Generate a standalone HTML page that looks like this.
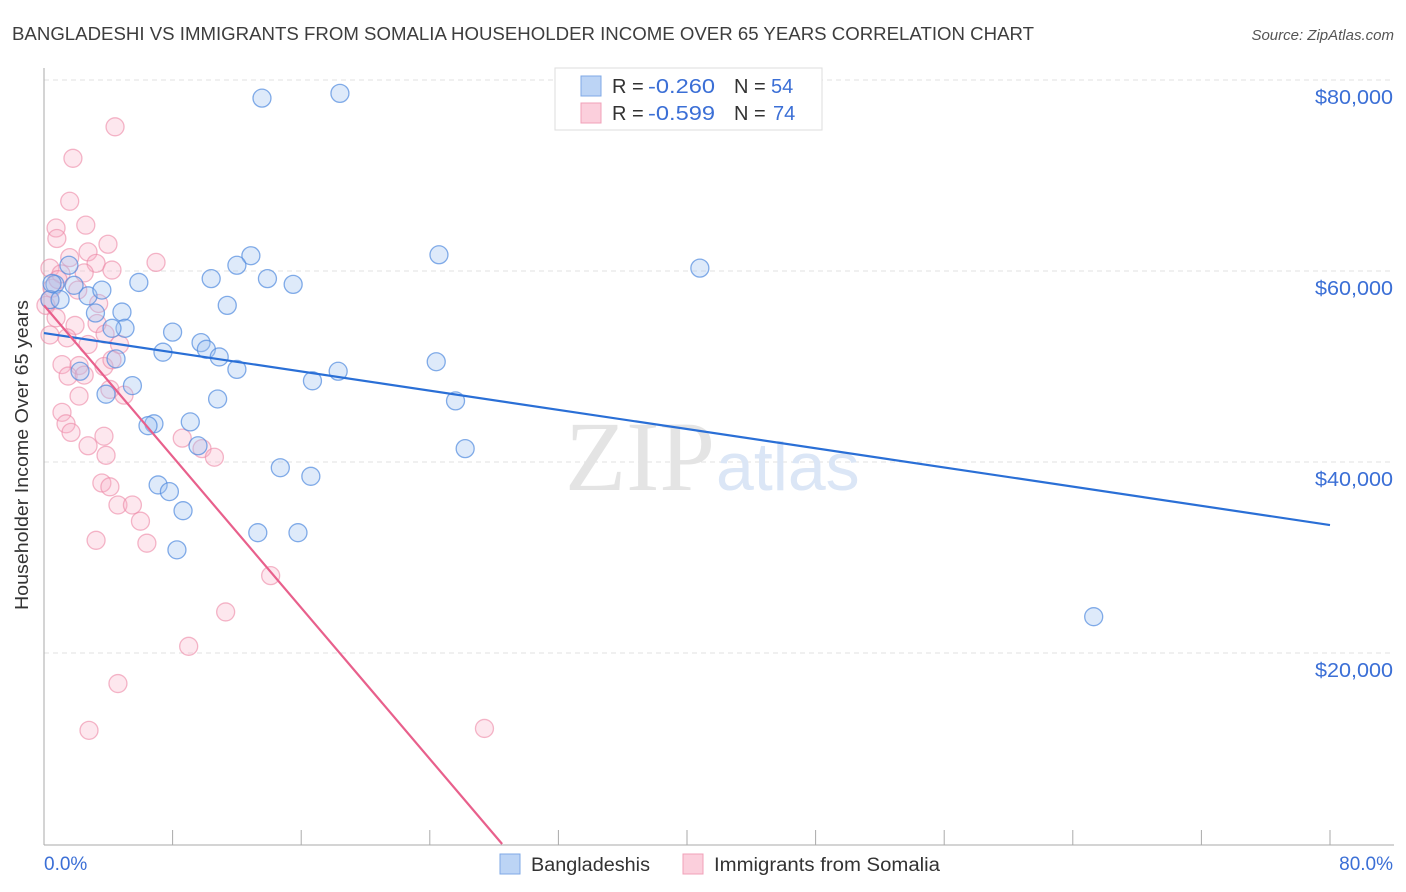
<!DOCTYPE html>
<html><head><meta charset="utf-8">
<style>
body{margin:0;background:#fff;font-family:"Liberation Sans",sans-serif;}
#wrap{position:relative;width:1406px;height:892px;overflow:hidden;}
</style></head>
<body>
<div id="wrap">
<svg id="chart" width="1406" height="892" xmlns="http://www.w3.org/2000/svg">
  <text x="12" y="40" font-size="18" fill="#3d3d3d" textLength="1022" lengthAdjust="spacingAndGlyphs">BANGLADESHI VS IMMIGRANTS FROM SOMALIA HOUSEHOLDER INCOME OVER 65 YEARS CORRELATION CHART</text>
  <text x="1394" y="40" font-size="15" fill="#555" font-style="italic" text-anchor="end">Source: ZipAtlas.com</text>
  <g id="grid"></g>
  <text x="715" y="490" font-size="100" fill="#e4e4e4" text-anchor="end" font-family="Liberation Serif,serif">ZIP</text>
  <text x="716" y="490" font-size="68" fill="#dbe6f6">atlas</text>
  <g id="axes"></g>
  <g id="pts"></g>
  <g id="lines"></g>
  <text x="28" y="455" font-size="18" fill="#333" text-anchor="middle" textLength="310" lengthAdjust="spacingAndGlyphs" transform="rotate(-90 28 455)">Householder Income Over 65 years</text>
  <g>
    <rect x="555" y="68" width="267" height="62" fill="#fff" stroke="#ddd"/>
    <rect x="581" y="76" width="20" height="20" fill="#bcd4f5" stroke="#7fa8e6"/>
    <rect x="581" y="103" width="20" height="20" fill="#fbcfdc" stroke="#f0a0b8"/>
    <text x="612" y="93" font-size="20" fill="#333">R = <tspan x="648" fill="#3b6fd6" textLength="67" lengthAdjust="spacingAndGlyphs">-0.260</tspan><tspan x="734">N = </tspan><tspan x="771" fill="#3b6fd6">54</tspan></text>
    <text x="612" y="120" font-size="20" fill="#333">R = <tspan x="648" fill="#3b6fd6" textLength="67" lengthAdjust="spacingAndGlyphs">-0.599</tspan><tspan x="734">N = </tspan><tspan x="773" fill="#3b6fd6">74</tspan></text>
  </g>
  <g>
    <rect x="500" y="854" width="20" height="20" fill="#bcd4f5" stroke="#7fa8e6"/>
    <text x="531" y="871" font-size="19" fill="#333" textLength="119" lengthAdjust="spacingAndGlyphs">Bangladeshis</text>
    <rect x="683" y="854" width="20" height="20" fill="#fbcfdc" stroke="#f0a0b8"/>
    <text x="714" y="871" font-size="19" fill="#333" textLength="226" lengthAdjust="spacingAndGlyphs">Immigrants from Somalia</text>
  </g>
</svg>
</div>
<script>
const yTicks=[20000,40000,60000,80000];
const yTickLabels=["$20,000","$40,000","$60,000","$80,000"];
const xTicks=[0,8,16,24,32,40,48,56,64,72,80];
const xEndLabels=["0.0%","80.0%"];
const blueX=[13.56,18.41,24.57,40.8,65.3,12.87,12.0,13.9,15.5,10.4,11.4,5.9,1.55,0.68,0.37,1.0,2.74,3.6,1.87,3.2,4.85,5.04,4.23,8.0,9.77,10.1,7.4,10.9,12.0,4.48,2.24,5.5,3.86,10.8,16.7,18.3,24.4,25.6,26.2,9.1,6.84,6.47,9.58,7.1,7.8,8.65,8.27,14.7,16.6,13.3,15.8,0.5];
const blueY=[78.1,78.6,61.7,60.3,23.8,61.6,60.6,59.2,58.6,59.2,56.4,58.8,60.6,58.6,57.0,57.0,57.4,58.0,58.5,55.6,55.7,54.0,54.0,53.6,52.5,51.8,51.5,51.0,49.7,50.8,49.5,48.0,47.1,46.6,48.5,49.5,50.5,46.4,41.4,44.2,44.0,43.8,41.7,37.6,36.9,34.9,30.8,39.4,38.5,32.6,32.6,58.7];
const pinkX=[4.42,1.8,1.6,0.75,2.6,3.98,6.97,0.8,1.6,2.74,3.24,4.23,0.37,1.06,2.5,0.5,2.1,3.4,0.12,0.75,1.93,3.3,3.8,0.37,1.43,2.74,4.7,1.12,2.18,3.73,4.23,1.5,2.5,4.1,4.98,2.18,1.12,1.37,1.68,3.73,2.74,8.6,9.83,10.6,3.86,3.6,4.1,4.6,5.5,6.0,3.24,6.4,14.1,11.3,9.0,4.6,2.8,27.4,0.37,0.87];
const pinkY=[75.1,71.8,67.3,64.5,64.8,62.8,60.9,63.4,61.4,62.0,60.8,60.1,60.3,59.7,59.8,58.2,58.0,56.6,56.4,55.1,54.3,54.5,53.4,53.3,53.0,52.3,52.3,50.2,50.1,50.0,50.7,49.0,49.1,47.6,47.0,46.9,45.2,44.0,43.1,42.7,41.7,42.5,41.4,40.5,40.7,37.8,37.4,35.5,35.5,33.8,31.8,31.5,28.1,24.3,20.7,16.8,11.9,12.1,57.0,59.1];
const blueTrend=[53.5,33.4]; // y (k$) at x=0 and x=80
const pinkTrend=[56.4,28.5]; // y (k$) at x=0, x (%) where y reaches 0
const NS="http://www.w3.org/2000/svg";
const X0=44,X1=1330,Y0=844,PX=9.55;
const sx=v=>X0+(v/80)*(X1-X0);
const sy=k=>Y0-k*PX;
function mk(tag,attrs,parent){const e=document.createElementNS(NS,tag);for(const k in attrs)e.setAttribute(k,attrs[k]);parent.appendChild(e);return e;}
const grid=document.getElementById('grid'),axes=document.getElementById('axes'),pts=document.getElementById('pts'),lines=document.getElementById('lines');
yTicks.forEach((t,i)=>{
  const y=sy(t/1000);
  const l=mk('line',{x1:X0,x2:1394,y1:y,y2:y,stroke:'#e2e2e2','stroke-dasharray':'5,4'},grid);
  
  
  const tx=mk('text',{x:1393,y:y+24,'font-size':20,fill:'#3b6fd6','text-anchor':'end',textLength:78,lengthAdjust:'spacingAndGlyphs'},axes);
  tx.textContent=yTickLabels[i];
  
  
});
const ya=mk('line',{x1:X0,x2:X0,y1:68,y2:845,stroke:'#aaa'},axes);


const xa=mk('line',{x1:X0,x2:1394,y1:845,y2:845,stroke:'#aaa'},axes);


xTicks.forEach(t=>{
  const x=sx(t);
  const tk=mk('line',{x1:x,x2:x,y1:830,y2:845,stroke:'#aaa'},axes);
  
  
});
const xl0=mk('text',{x:44,y:870,'font-size':19,fill:'#3b6fd6'},axes);xl0.textContent=xEndLabels[0];


const xl1=mk('text',{x:1393,y:870,'font-size':19,fill:'#3b6fd6','text-anchor':'end'},axes);xl1.textContent=xEndLabels[1];


pinkX.forEach((v,i)=>{
  const c=mk('circle',{cx:sx(v),cy:sy(pinkY[i]),r:9,fill:'rgba(248,175,198,0.3)',stroke:'rgba(236,135,165,0.6)','stroke-width':1.3},pts);
  
  
});
blueX.forEach((v,i)=>{
  const c=mk('circle',{cx:sx(v),cy:sy(blueY[i]),r:9,fill:'rgba(160,196,242,0.35)',stroke:'rgba(80,138,222,0.7)','stroke-width':1.3},pts);
  
  
});
const bl=mk('line',{x1:sx(0),y1:sy(blueTrend[0]),x2:sx(80),y2:sy(blueTrend[1]),stroke:'#2a6fd6','stroke-width':2.2},lines);


const pEnd=Math.min(80,pinkTrend[1]);
const pl=mk('line',{x1:sx(0),y1:sy(pinkTrend[0]),x2:sx(pEnd),y2:sy(pinkTrend[0]*(1-pEnd/pinkTrend[1])),stroke:'#e8608c','stroke-width':2.2},lines);


</script>
</body></html>
